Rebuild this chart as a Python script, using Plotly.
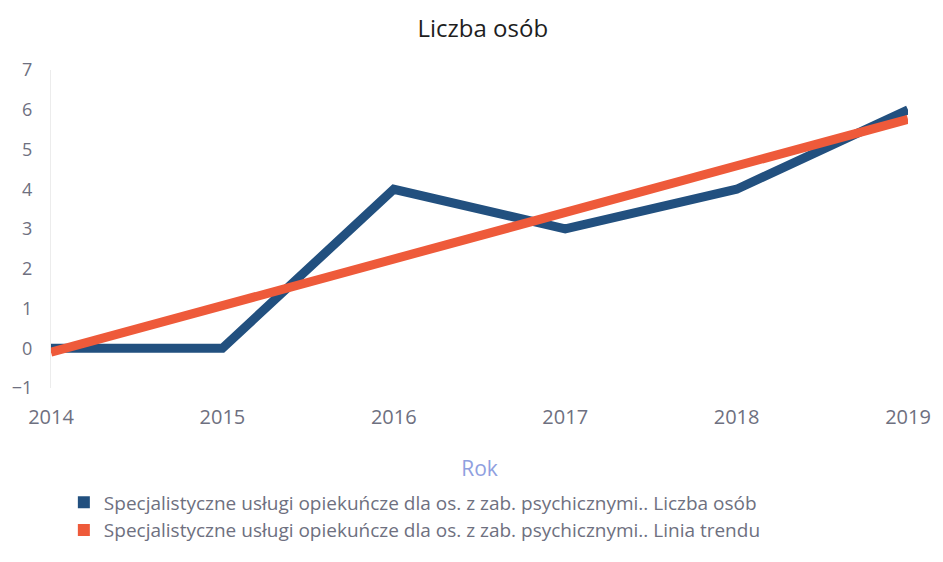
import plotly.graph_objects as go

years = [2014, 2015, 2016, 2017, 2018, 2019]
liczba_osob = [0, 0, 4, 3, 4, 6]
linia_trendu = [-0.1, 1.08, 2.25, 3.42, 4.59, 5.76]
name_a = "Specjalistyczne usługi opiekuńcze dla os. z zab. psychicznymi.. Liczba osób"
name_b = "Specjalistyczne usługi opiekuńcze dla os. z zab. psychicznymi.. Linia trendu"
blue = "#22507f"
orange = "#ee5a3a"

fig = go.Figure()
fig.add_trace(go.Scatter(x=years, y=liczba_osob, mode="lines", name=name_a,
                         line=dict(color=blue, width=9), showlegend=False))
fig.add_trace(go.Scatter(x=years, y=linia_trendu, mode="lines", name=name_b,
                         line=dict(color=orange, width=9), showlegend=False))
# legend entries with square symbols
fig.add_trace(go.Scatter(x=[None], y=[None], mode="markers", name=name_a,
                         marker=dict(symbol="square", size=15, color=blue)))
fig.add_trace(go.Scatter(x=[None], y=[None], mode="markers", name=name_b,
                         marker=dict(symbol="square", size=15, color=orange)))

fig.update_layout(
    width=943, height=562,
    paper_bgcolor="white", plot_bgcolor="white",
    margin=dict(l=46, r=24, t=70, b=172),
    title=dict(text="Liczba osób", x=0.512, xanchor="center", y=0.95, yanchor="middle",
               font=dict(family="Open Sans", size=24, color="#1e1e1e")),
    font=dict(family="Open Sans", color="#6e7080"),
    xaxis=dict(range=[2014, 2019], tickvals=years, ticktext=[str(y) for y in years],
               showgrid=False, zeroline=False, showline=False,
               tickfont=dict(size=20, color="#6e7080"), ticks="", ticklabelstandoff=15,
               title=dict(text="Rok", font=dict(size=21, color="#8fa0e0"), standoff=32)),
    yaxis=dict(range=[-1, 7], dtick=1, showgrid=False, zeroline=False,
               showline=True, linecolor="#ececec", linewidth=1,
               tickfont=dict(size=18, color="#6e7080"), ticks="", ticklabelstandoff=14),
    legend=dict(orientation="v", x=0.015, y=-0.3, xanchor="left", yanchor="top",
                font=dict(size=19, color="#6e7080"), tracegroupgap=0,
                itemsizing="constant"),
)

fig.write_html("out.html", config={"displayModeBar": False},
               post_script="document.body.style.margin='0';")
